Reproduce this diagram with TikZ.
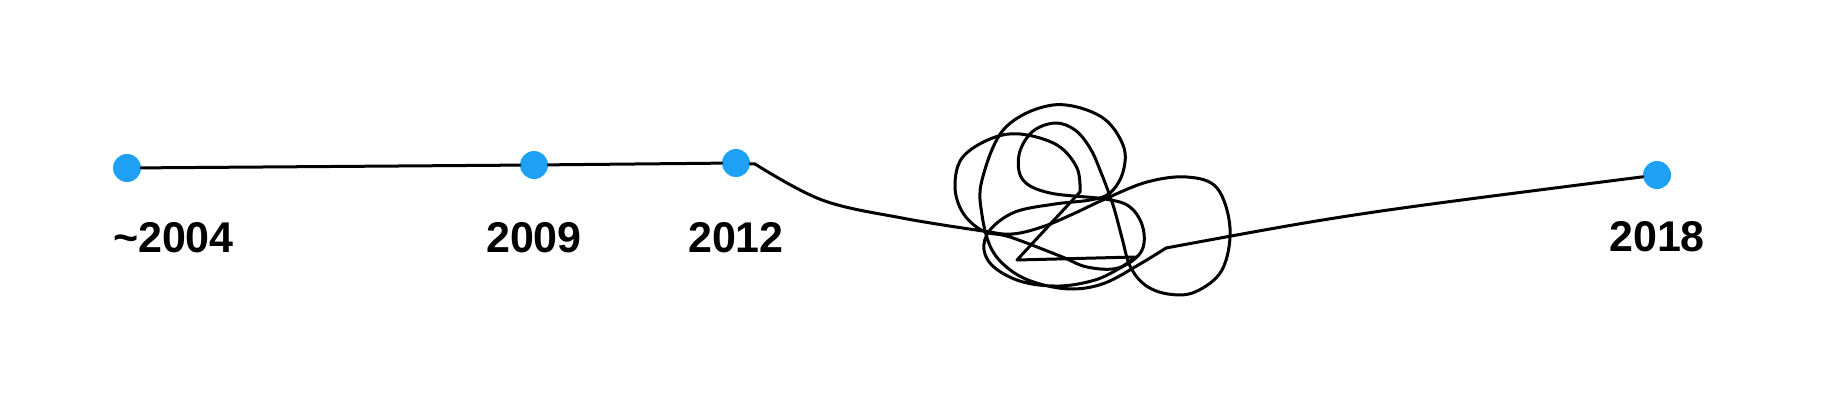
\documentclass[tikz,border=0pt]{standalone}
\usepackage{fontspec}
\setmainfont{Liberation Sans}
\usetikzlibrary{positioning}

\definecolor{dotblue}{RGB}{30,161,245}
\tikzset{
  milestone/.style={circle, fill=dotblue, inner sep=0pt, minimum size=28pt},
  year/.style={font=\fontsize{43}{50}\selectfont\bfseries, inner sep=0pt},
  track/.style={line width=3pt, line join=round, line cap=round}
}

\begin{document}
\begin{tikzpicture}[x=1pt, y=-1pt]
  \useasboundingbox (0,0) rectangle (1836,412);

  % Define nodes
  \node[milestone] (d04) at (127,168) {};
  \node[milestone] (d09) at (534,165) {};
  \node[milestone] (d12) at (736,163) {};
  \node[milestone] (d18) at (1657,175) {};
  \node[year, below=54pt of d04.west, anchor=north west] (y04) {\textasciitilde2004};
  \node[year, below=43pt of d09] (y09) {2009};
  \node[year, below=45pt of d12] (y12) {2012};
  \node[year, below=32pt of d18] (y18) {2018};
  \coordinate (kinkIn) at (755,164);
  \coordinate (kinkOut) at (1166,248);
  \coordinate (tieA) at (1080,192);
  \coordinate (tieB) at (1017,260);
  \coordinate (tieC) at (1135,257);

  % Connect the nodes
  \draw[track] (d04) -- (d09) -- (d12) -- (kinkIn);
  \draw[track] plot[smooth, tension=0.6] coordinates {(755,164) (822,200) (902,218)
    (983,231) (1012,234) (1042,227) (1073,214) (1105,199) (1147,182) (1187,177)
    (1217,188) (1230,228) (1222,270) (1195,292) (1168,294) (1145,285) (1130,266)
    (1122,238) (1113,205) (1100,170) (1090,148) (1075,130) (1055,123) (1032,132)
    (1019,155) (1023,180) (1050,193) (1105,199) (1130,207) (1143,228) (1141,252)
    (1118,268) (1087,267) (1060,256) (1010,237) (983,231) (963,213) (955,187)
    (962,158) (990,139) (1020,134) (1057,145) (1077,168) (1080,192)};
  \draw[track] (tieA) -- (tieB) -- (tieC);
  \draw[track] plot[smooth, tension=0.6] coordinates {(1135,257) (1120,268)
    (1095,280) (1060,286) (1023,282) (995,268) (984,250) (990,230) (1015,212)
    (1055,204) (1090,200) (1110,193) (1123,172) (1123,145) (1100,116) (1053,105)
    (1005,128) (982,180) (982,215) (992,250) (1013,272) (1040,284) (1073,289)
    (1105,283) (1140,264) (1166,248)};
  \draw[track] (kinkOut) .. controls (1350,214) .. (d18);
\end{tikzpicture}
\end{document}
